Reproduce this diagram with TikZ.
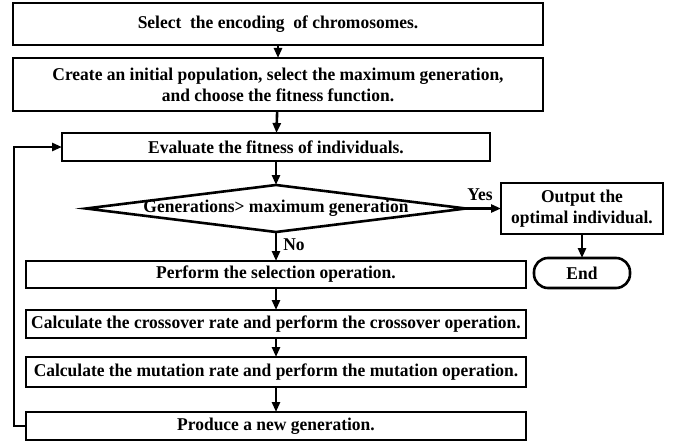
\documentclass[tikz,border=0pt]{standalone}
\usepackage{fontspec}
\setmainfont{Liberation Serif}[BoldFeatures={FakeStretch=0.97}]
\usetikzlibrary{positioning,shapes.geometric,arrows.meta}

\begin{document}
\begin{tikzpicture}[->,>={Triangle[length=10pt,width=8pt]},line width=2.6pt,node distance=20pt,
    every node/.style={font=\fontsize{18}{21}\selectfont\bfseries,outer sep=0pt},
    proc node/.style={draw,rectangle,align=center,inner sep=0pt},
    dec node/.style={draw,diamond,inner sep=0pt,minimum width=380pt,minimum height=47pt},
    end node/.style={draw,rectangle,rounded corners=14pt,inner sep=0pt,minimum width=96pt,minimum height=30pt}]
    \useasboundingbox (0,0) rectangle (676pt,-444pt);

    \node[proc node,minimum width=530pt,minimum height=42pt] (select) at (278pt,-24pt) {Select\ \ the encoding\ \ of chromosomes.};
    \node[proc node,minimum width=530pt,minimum height=53pt] (create) [below=13pt of select] {Create an initial population, select the maximum generation,\\and choose the fitness function.};
    \node[proc node,minimum width=428pt,minimum height=28pt] (evaluate) [below=22pt of create, xshift=-2pt] {Evaluate the fitness of individuals.};
    \node[dec node] (check) [below=24pt of evaluate] {\makebox[0pt]{Generations> maximum generation}};
    \node[proc node,minimum width=500pt,minimum height=27pt] (selection) [below=29pt of check] {Perform the selection operation.};
    \node[proc node,minimum width=500pt,minimum height=28pt] (crossover) [below=22pt of selection] {Calculate the crossover rate and perform the crossover operation.};
    \node[proc node,minimum width=500pt,minimum height=30pt] (mutation) [below=19pt of crossover] {Calculate the mutation rate and perform the mutation operation.};
    \node[proc node,minimum width=500pt,minimum height=28pt] (produce) [below=25pt of mutation] {Produce a new generation.};

    \node[proc node,minimum width=162pt,minimum height=51pt] (output) [right=35pt of check] {Output the\\optimal individual.};
    \node[end node] (end) [below=24pt of output] {End};

    \path
        (select) edge (create)
        (create) edge (evaluate)
        (evaluate) edge (check)
        (check) edge node[right=4pt, pos=0.45]{No} (selection)
        (check) edge node[above=4pt, pos=0.4]{Yes} (output)
        (selection) edge (crossover)
        (crossover) edge (mutation)
        (mutation) edge (produce)
        (output) edge (end)
        ;
    \draw (produce.west) -- ++(-12pt,0) |- (evaluate.west);
\end{tikzpicture}
\end{document}
